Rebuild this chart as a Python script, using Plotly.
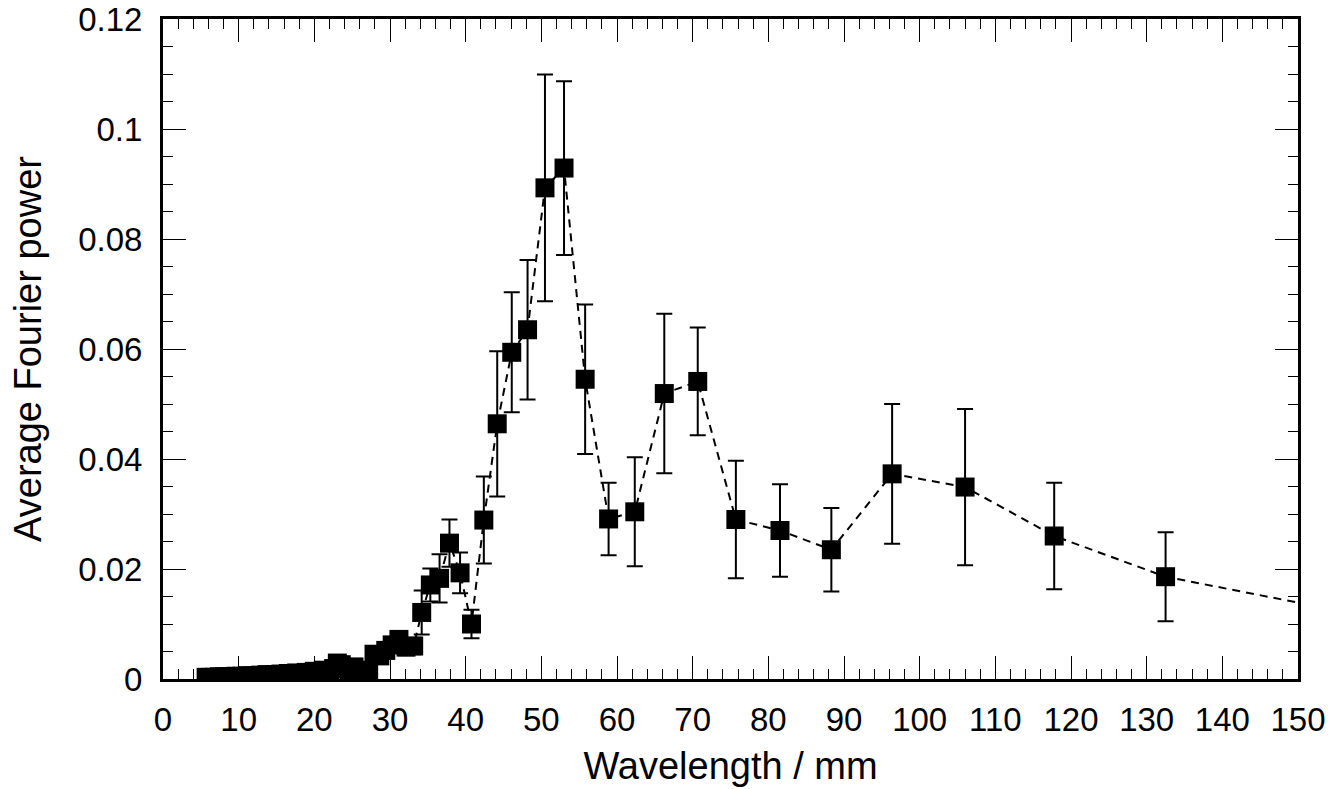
import plotly.graph_objects as go

# Wavelength (mm)
wavelength = [151.43, 132.5, 117.78, 106.0, 96.36, 88.33, 81.54, 75.71, 70.67, 66.25,
              62.35, 58.89, 55.79, 53.0, 50.48, 48.18, 46.09, 44.17, 42.4, 40.77,
              39.26, 37.86, 36.55, 35.33, 34.19, 33.13, 32.12, 31.18, 30.29, 29.44,
              28.65, 27.89, 27.18, 26.5, 25.85, 25.24, 24.65, 24.09, 23.56, 23.04,
              22.55, 22.08, 21.2, 20.0, 18.93, 17.67, 16.56, 15.59, 14.72, 13.77,
              12.93, 12.05, 11.16, 10.39, 9.64, 8.83, 8.15, 7.46, 6.79, 6.24, 5.7]

# Average Fourier power
power = [0.0135, 0.0186, 0.0260, 0.0349, 0.0373, 0.0235, 0.0270, 0.0290, 0.0541, 0.0519,
         0.0304, 0.0291, 0.0545, 0.0929, 0.0893, 0.0635, 0.0594, 0.0464, 0.0289, 0.0100,
         0.0193, 0.0247, 0.0183, 0.0171, 0.0121, 0.0060, 0.0058, 0.0072, 0.0062, 0.0052,
         0.0042, 0.0045, 0.0016, 0.0014, 0.0013, 0.0022, 0.0013, 0.0020, 0.0026, 0.0029,
         0.0019, 0.0015, 0.0016, 0.0014, 0.0012, 0.0011, 0.0010, 0.0009, 0.0008, 0.0008,
         0.0007, 0.0006, 0.0006, 0.0005, 0.0005, 0.0004, 0.0004, 0.0004, 0.0003, 0.0003, 0.0003]

# Error (symmetric)
power_err = [0.0070, 0.0081, 0.0097, 0.0142, 0.0127, 0.0076, 0.0084, 0.0107, 0.0098, 0.0145,
             0.0099, 0.0066, 0.0136, 0.0158, 0.0206, 0.0127, 0.0109, 0.0132, 0.0079, 0.0026,
             0.0037, 0.0043, 0.0044, 0.0030, 0.0040, 0.0015, 0.0015, 0.0012, 0.0012, 0.0010,
             0.0009, 0.0009, 0.0005, 0.0004, 0.0004, 0.0005, 0.0004, 0.0005, 0.0005, 0.0006,
             0.0004, 0.0004, 0.0004, 0.0004, 0.0003, 0.0003, 0.0003, 0.0002, 0.0002, 0.0002,
             0.0002, 0.0002, 0.0002, 0.0001, 0.0001, 0.0001, 0.0001, 0.0001, 0.0001, 0.0001, 0.0001]

x_tickvals = [0, 10, 20, 30, 40, 50, 60, 70, 80, 90, 100, 110, 120, 130, 140, 150]
x_ticktext = ["0", "10", "20", "30", "40", "50", "60", "70", "80", "90", "100", "110",
              "120", "130", "140", "150"]
y_tickvals = [0, 0.02, 0.04, 0.06, 0.08, 0.1, 0.12]
y_ticktext = ["0", "0.02", "0.04", "0.06", "0.08", "0.1", "0.12"]

FONT = "Liberation Sans, Arial, Helvetica, sans-serif"

fig = go.Figure()
fig.add_trace(go.Scatter(
    x=wavelength, y=power,
    mode="lines+markers",
    line=dict(color="black", width=2, dash="8px,6px"),
    marker=dict(symbol="square", size=19, color="black", line=dict(width=0)),
    error_y=dict(type="data", array=power_err, visible=True, color="black",
                 thickness=2, width=8),
    showlegend=False,
))

axis_common = dict(
    showline=True, linewidth=3, linecolor="black", mirror="allticks",
    ticks="inside", ticklen=23, tickwidth=1.2, tickcolor="black",
    showgrid=False, zeroline=False,
    tickfont=dict(family=FONT, size=33, color="black"),
)

fig.update_xaxes(
    range=[0, 150], tickmode="array", tickvals=x_tickvals, ticktext=x_ticktext,
    minor=dict(ticks="inside", ticklen=10, dtick=2, tickwidth=1.2, tickcolor="black", showgrid=False),
    title=dict(text="Wavelength / mm", font=dict(family=FONT, size=38, color="black"), standoff=16),
    ticklabelstandoff=9,
    **axis_common,
)
fig.update_yaxes(
    range=[0, 0.12], tickmode="array", tickvals=y_tickvals, ticktext=y_ticktext,
    minor=dict(ticks="inside", ticklen=10, dtick=0.005, tickwidth=1.2, tickcolor="black", showgrid=False),
    title=dict(text="Average Fourier power", font=dict(family=FONT, size=38, color="black"), standoff=25),
    ticklabelstandoff=11,
    **axis_common,
)

fig.update_layout(
    width=1341, height=789,
    margin=dict(l=163, r=43, t=19, b=110, autoexpand=False),
    paper_bgcolor="white", plot_bgcolor="white",
    font=dict(family=FONT, color="black"),
)

fig.write_html("out.html")
